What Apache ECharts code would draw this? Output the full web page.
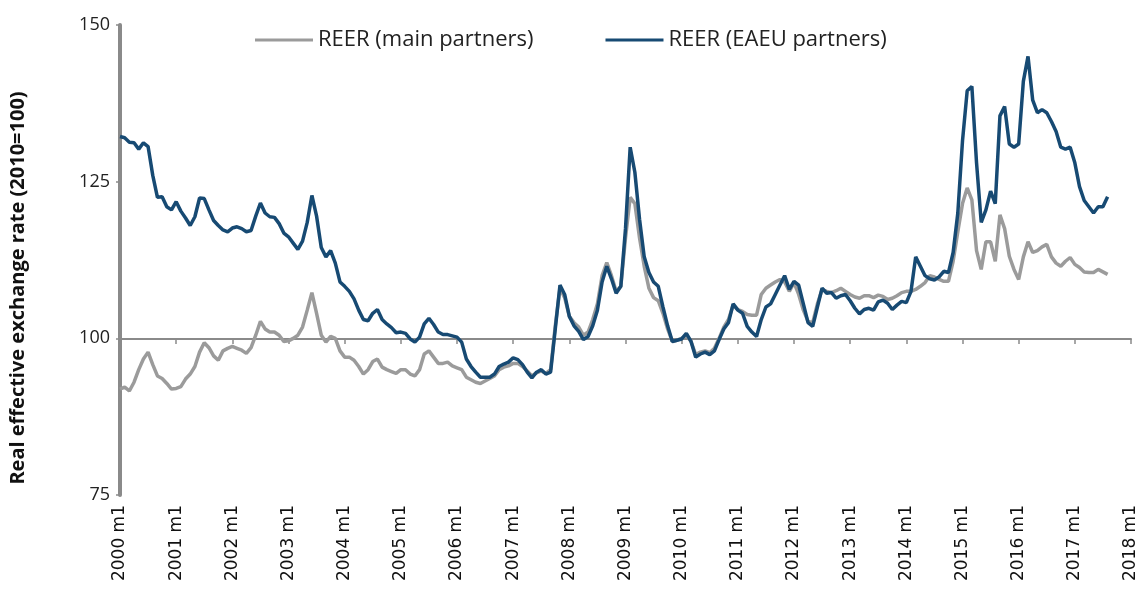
<!DOCTYPE html>
<html>
<head>
<meta charset="utf-8">
<script src="https://cdn.jsdelivr.net/npm/echarts@6/dist/echarts.min.js"></script>
<style>
  html, body { margin: 0; padding: 0; background: #fff; }
  #chart { width: 1145px; height: 609px; }
</style>
</head>
<body>
<div id="chart"></div>
<script>
// monthly REER, 2000 m1 .. 2017 m8
const mainPartners = [
  91.9, 92.2, 91.6, 93, 95, 96.7, 97.8, 95.8, 94, 93.6, 92.8, 91.9,
  92, 92.3, 93.5, 94.3, 95.5, 97.8, 99.3, 98.5, 97.2, 96.5, 98, 98.4,
  98.7, 98.4, 98.1, 97.6, 98.5, 100.5, 102.7, 101.5, 101, 101, 100.5, 99.5,
  99.6, 100, 100.5, 101.8, 104.5, 107.3, 104, 100.5, 99.4, 100.3, 100, 98,
  97, 97, 96.5, 95.5, 94.3, 95, 96.3, 96.7, 95.4, 95, 94.7, 94.4,
  95, 95, 94.3, 94, 95, 97.5, 98, 97, 96, 96, 96.2, 95.6,
  95.3, 95, 93.8, 93.4, 93, 92.8, 93.2, 93.6, 94, 95, 95.4, 95.6,
  96, 96, 95.5, 94.8, 94, 94.5, 94.8, 94.4, 95, 102, 108, 106.5,
  103.5, 102.5, 101.8, 100.5, 101, 103, 105.5, 110, 112.1, 110, 107.5, 108.3,
  116, 122.5, 121.5, 116, 111.5, 108, 106.5, 106, 104, 101.5, 99.5, 99.7,
  100, 100.5, 99.5, 97.4, 97.8, 98, 97.7, 98.4, 100, 101.8, 103, 105.3,
  104.6, 104.3, 103.8, 103.7, 103.7, 107, 108, 108.5, 109, 109.4, 109, 107.5,
  108.9, 107, 104.5, 102.7, 102.5, 105.5, 107.8, 107.5, 107.3, 107.6, 108, 107.5,
  107, 106.6, 106.4, 106.8, 106.8, 106.5, 106.9, 106.7, 106.2, 106.4, 106.8, 107.3,
  107.5, 107.5, 107.8, 108.3, 108.9, 110, 109.8, 109.4, 109.1, 109.1, 112.3, 117,
  121.5, 124, 122.1, 114, 111, 115.4, 115.4, 112.3, 119.7, 117.5, 113.1, 111,
  109.4, 113, 115.4, 113.7, 114, 114.6, 115, 113, 112, 111.5, 112.3, 112.9,
  111.8, 111.3, 110.6, 110.5, 110.5, 111, 110.6, 110.2
];

const eaeuPartners = [
  132.2, 132, 131.3, 131.2, 130.2, 131.2, 130.6, 126, 122.5, 122.6, 121, 120.5,
  121.8, 120.3, 119.2, 118, 119.4, 122.4, 122.3, 120.5, 118.8, 118, 117.3, 117,
  117.6, 117.8, 117.5, 117, 117.2, 119.5, 121.6, 120, 119.4, 119.3, 118.3, 116.8,
  116.2, 115.2, 114.2, 115.5, 118.5, 122.8, 119.5, 114.5, 113, 114, 112, 109,
  108.3, 107.5, 106.3, 104.5, 103, 102.8, 104, 104.6, 103, 102.3, 101.7, 100.9,
  101, 100.8, 99.9, 99.4, 100.2, 102.3, 103.2, 102.2, 101, 100.6, 100.6, 100.4,
  100.2, 99.4, 96.7, 95.5, 94.6, 93.8, 93.8, 93.8, 94.3, 95.5, 95.9, 96.2,
  96.9, 96.6, 95.8, 94.6, 93.7, 94.6, 95, 94.3, 94.6, 101.5, 108.5, 107,
  103.5, 102, 101.1, 99.8, 100.3, 102, 104.5, 109, 111.5, 109.5, 107.2, 108.3,
  117.5, 130.5, 126.5, 119, 113, 110.5, 109, 108.3, 105, 102, 99.5, 99.7,
  99.9, 100.8, 99.5, 97, 97.5, 97.8, 97.4, 98, 99.8, 101.5, 102.5, 105.5,
  104.5, 104, 101.9, 101, 100.3, 103, 105, 105.5, 107, 108.5, 110, 107.8,
  109.1, 108.5, 105.5, 102.5, 101.9, 105, 108, 107.2, 107.3, 106.4, 106.8, 107,
  106, 104.8, 103.9, 104.6, 104.8, 104.5, 105.8, 106.1, 105.6, 104.6, 105.3, 105.9,
  105.7, 107.5, 113, 111.5, 110, 109.5, 109.3, 109.8, 110.7, 110.5, 113.7, 120,
  131.5, 139.5, 140.2, 128, 118.5, 120.5, 123.5, 121.5, 135.5, 137, 131, 130.5,
  131, 141, 145, 138, 136, 136.5, 136, 134.6, 133, 130.5, 130.2, 130.5,
  128, 124.2, 122, 121, 120, 121, 121, 122.6
];

// axis months 2000 m1 .. 2018 m1
const months = [];
for (let y = 2000; y <= 2018; y++) {
  for (let m = 1; m <= 12; m++) {
    months.push(y + ' m' + m);
    if (y === 2018) break;
  }
}

const yTicks = { min: 75, max: 150, step: 25 };

const chart = echarts.init(document.getElementById('chart'));

chart.setOption({
  animation: false,
  backgroundColor: '#fff',
  grid: { left: 117, right: 14, top: 25, bottom: 114 },
  legend: {
    top: 24,
    left: 250,
    itemGap: 72,
    itemWidth: 58,
    itemHeight: 3,
    icon: 'rect',
    textStyle: { fontSize: 22, color: '#222', fontFamily: 'Open Sans, sans-serif', padding: [0, 0, 0, 0] },
    data: ['REER (main partners)', 'REER (EAEU partners)']
  },
  xAxis: [
    {
      type: 'category',
      data: months,
      boundaryGap: false,
      axisLine: { show: false },
      axisTick: { show: false },
      axisLabel: {
        interval: 11,
        rotate: 90,
        margin: 10,
        fontSize: 17,
        color: '#111',
        fontFamily: 'DejaVu Sans, sans-serif'
      },
      splitLine: { show: false }
    },
    {
      // horizontal line at 100 with year ticks
      type: 'category',
      data: months,
      boundaryGap: false,
      position: 'bottom',
      offset: -156,
      axisLine: { show: true, lineStyle: { color: '#8a8a8a', width: 2 } },
      axisTick: { show: true, interval: 11, length: 5, lineStyle: { color: '#8a8a8a', width: 1.5 } },
      axisLabel: { show: false },
      splitLine: { show: false }
    }
  ],
  yAxis: {
    type: 'value',
    min: yTicks.min,
    max: yTicks.max,
    interval: yTicks.step,
    name: 'Real effective exchange rate (2010=100)',
    nameLocation: 'middle',
    nameGap: 92,
    nameTextStyle: {
      fontSize: 20,
      fontWeight: 'bold',
      color: '#111',
      fontFamily: 'Open Sans, sans-serif',
      padding: [0, 56, 0, 0]
    },
    axisLine: { show: true, lineStyle: { color: '#8a8a8a', width: 4 } },
    axisTick: { show: true, length: 4, lineStyle: { color: '#8a8a8a', width: 1.5 } },
    axisLabel: { fontSize: 18, color: '#222', margin: 10, fontFamily: 'Open Sans, sans-serif' },
    splitLine: { show: false }
  },
  series: [
    {
      name: 'REER (main partners)',
      type: 'line',
      data: mainPartners,
      showSymbol: false,
      symbol: 'none',
      color: '#9b9b9b',
      lineStyle: { width: 3.5, color: '#9b9b9b' }
    },
    {
      name: 'REER (EAEU partners)',
      type: 'line',
      data: eaeuPartners,
      showSymbol: false,
      symbol: 'none',
      color: '#174a73',
      lineStyle: { width: 3.5, color: '#174a73' }
    }
  ]
});
</script>
</body>
</html>
